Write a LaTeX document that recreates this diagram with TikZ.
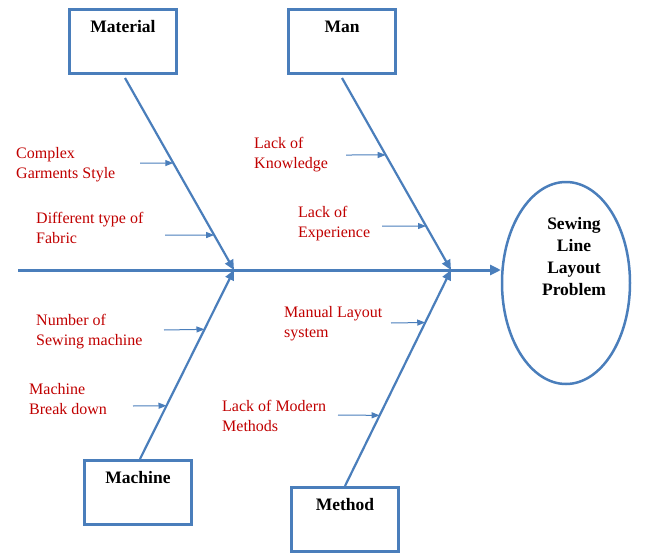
\documentclass[tikz,border=0pt]{standalone}
\usepackage{fontspec}
\setmainfont{Liberation Serif}
\usetikzlibrary{arrows.meta,shapes.geometric,calc}
\definecolor{fishblue}{RGB}{74,126,187}
\definecolor{causered}{RGB}{192,0,0}
\begin{document}
\begin{tikzpicture}[x=1pt,y=-1pt,
  catbox/.style={draw=fishblue,line width=3pt,minimum width=107pt,minimum height=64pt,inner sep=0pt},
  cattitle/.style={font=\fontsize{17.5}{20}\selectfont\bfseries,text=black,anchor=north,inner sep=0pt},
  cause/.style={font=\fontsize{16}{20.5}\selectfont,text=causered,align=left,anchor=north west,inner sep=0pt},
  spine/.style={draw=fishblue,line width=3pt,-{Triangle[length=11pt,width=10pt]}},
  bone/.style={draw=fishblue,line width=2.2pt,-{Triangle[length=10pt,width=9pt]}},
  twig/.style={draw=fishblue,line width=1pt,-{Triangle[length=8pt,width=6pt]}},
  effect/.style={draw=fishblue,line width=2.5pt,ellipse,minimum width=128pt,minimum height=202pt,inner sep=0pt}
]
\useasboundingbox (0,0) rectangle (646,554);

% category boxes
\node[catbox] (mat) at (123,41) {};
\node[catbox] (man) at (342,41) {};
\node[catbox] (mac) at (138,492) {};
\node[catbox] (met) at (345,519) {};
\node[cattitle] (matt) at ($(mat.north)+(0,13)$) {Material};
\node[cattitle] (mant) at ($(man.north)+(0,13)$) {Man};
\node[cattitle] (mact) at ($(mac.north)+(0,13)$) {Machine};
\node[cattitle] (mett) at ($(met.north)+(0,13)$) {Method};

% effect
\node[effect] (prob) at (566,283) {};
\node[font=\fontsize{17.5}{22}\selectfont\bfseries,align=center,inner sep=0pt] (probt) at (574,257) {Sewing\\Line\\Layout\\Problem};

% spine and joints
\coordinate (tail) at (18,270);
\coordinate (head) at (501,270);
\coordinate (j1) at (234,270);
\coordinate (j2) at (451,270);
\draw[spine] (tail) -- (head);

% bones
\coordinate (matf) at (125,78);
\coordinate (manf) at (342,78);
\coordinate (macf) at (140,459);
\coordinate (metf) at (345,486);
\draw[bone] (matf) -- (j1);
\draw[bone] (manf) -- (j2);
\draw[bone] (macf) -- (j1);
\draw[bone] (metf) -- (j2);

% causes
\node[cause] (c1) at (16,147) {Complex\\Garments Style};
\node[cause] (c2) at (36,212) {Different type of\\Fabric};
\node[cause] (c3) at (254,137) {Lack of\\Knowledge};
\node[cause] (c4) at (298,206) {Lack of\\Experience};
\node[cause] (c5) at (36,314) {Number of\\Sewing machine};
\node[cause] (c6) at (29,383) {Machine\\Break down};
\node[cause] (c7) at (284,306) {Manual Layout\\system};
\node[cause] (c8) at (222,400) {Lack of Modern\\Methods};

\coordinate (s1) at (140,163);
\coordinate (s2) at (165,235);
\coordinate (s3) at (346,155);
\coordinate (s4) at (382,226);
\coordinate (s5) at (164,330);
\coordinate (s6) at (133,406);
\coordinate (s7) at (391,323);
\coordinate (s8) at (338,415);

\draw[twig] (s1) -- ($(matf)!0.443!(j1)$);
\draw[twig] (s2) -- ($(matf)!0.818!(j1)$);
\draw[twig] (s3) -- ($(manf)!0.401!(j2)$);
\draw[twig] (s4) -- ($(manf)!0.771!(j2)$);
\draw[twig] (s5) -- ($(macf)!0.686!(j1)$);
\draw[twig] (s6) -- ($(macf)!0.282!(j1)$);
\draw[twig] (s7) -- ($(metf)!0.757!(j2)$);
\draw[twig] (s8) -- ($(metf)!0.327!(j2)$);
\end{tikzpicture}
\end{document}
